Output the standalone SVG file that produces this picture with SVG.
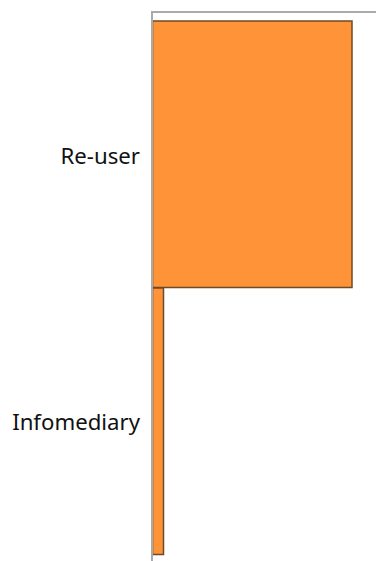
<svg xmlns="http://www.w3.org/2000/svg" width="376" height="561" viewBox="0 0 376 561">
<style>
.bar{fill:#fe9337;stroke:#6e4a28;stroke-width:1.5}
.axis{stroke:#aaaaaa;stroke-width:2;fill:none}
.lbl{font-family:"Noto Sans","Open Sans",sans-serif;font-size:22.2px;fill:#111;text-anchor:end}
</style>
<rect width="376" height="561" fill="#fff"/>
<g id="bars">
<g id="bar-reuser"><rect class="bar" x="152.5" y="21" width="199.5" height="266.5"/></g>
<g id="bar-infomediary"><rect class="bar" x="152.5" y="288" width="11" height="266.5"/></g>
</g>
<g id="axes">
<path class="axis" d="M152 561V12H376"/>
</g>
<g id="labels">
<text class="lbl" x="140" y="164">Re-user</text>
<text class="lbl" x="140" y="430">Infomediary</text>
</g>
</svg>
